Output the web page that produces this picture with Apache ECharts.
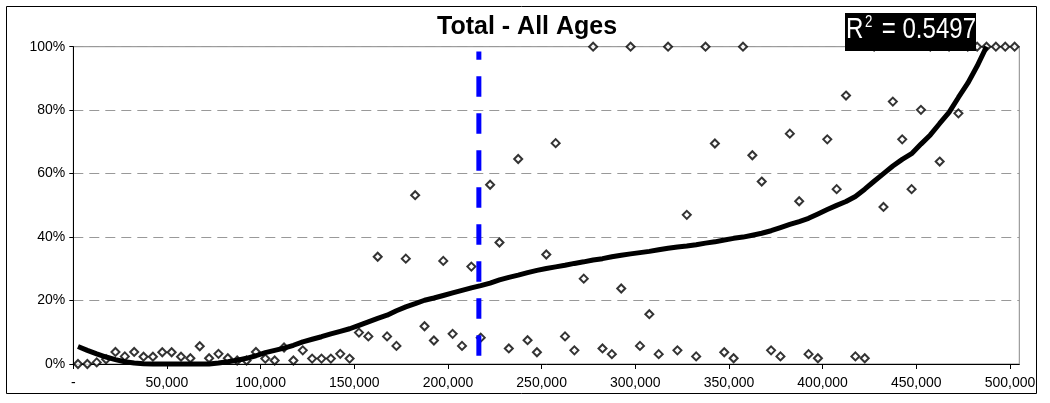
<!DOCTYPE html>
<html><head><meta charset="utf-8">
<script src="https://cdn.jsdelivr.net/npm/echarts@6/dist/echarts.min.js"></script>
<style>html,body{margin:0;padding:0;background:#fff}#c{width:1050px;height:403px}</style>
</head><body><div id="c"></div>
<script>
// Income bins (bin mid-points)
const incomeBins = [
  2500, 7500, 12500, 17500, 22500, 27500, 32500, 37500, 42500, 47500,
  52500, 57500, 62500, 67500, 72500, 77500, 82500, 87500, 92500, 97500,
  102500, 107500, 112500, 117500, 122500, 127500, 132500, 137500, 142500, 147500,
  152500, 157500, 162500, 167500, 172500, 177500, 182500, 187500, 192500, 197500,
  202500, 207500, 212500, 217500, 222500, 227500, 232500, 237500, 242500, 247500,
  252500, 257500, 262500, 267500, 272500, 277500, 282500, 287500, 292500, 297500,
  302500, 307500, 312500, 317500, 322500, 327500, 332500, 337500, 342500, 347500,
  352500, 357500, 362500, 367500, 372500, 377500, 382500, 387500, 392500, 397500,
  402500, 407500, 412500, 417500, 422500, 427500, 432500, 437500, 442500, 447500,
  452500, 457500, 462500, 467500, 472500, 477500, 482500, 487500, 492500, 497500,
  502500
];
// Observed share (%) per bin
const shareValues = [
  0, 0, 0.5, 1.5, 3.8, 2.4, 3.8, 2.3, 2.3, 3.7,
  3.7, 2.3, 1.8, 5.6, 1.8, 3.2, 1.8, 1.1, 1.1, 3.8,
  1.7, 1.1, 5.2, 1.1, 4.3, 1.7, 1.7, 1.7, 3.2, 1.7,
  9.9, 8.7, 33.8, 8.7, 5.7, 33.2, 53.2, 11.9, 7.4, 32.5,
  9.5, 5.7, 30.7, 8.3, 56.5, 38.3, 4.9, 64.6, 7.5, 3.7,
  34.5, 69.6, 8.7, 4.3, 26.9, 100, 4.9, 3.1, 23.8, 100,
  5.7, 15.7, 3.1, 100, 4.3, 47.0, 2.4, 100, 69.5, 3.7,
  1.8, 100, 65.8, 57.5, 4.3, 2.4, 72.6, 51.3, 3.1, 1.8,
  70.8, 55.1, 84.6, 2.4, 1.8, 100, 49.5, 82.7, 70.8, 55.1,
  80.1, 100, 63.8, 100, 79.0, 100, 100, 100, 100, 100,
  100
];
// Trend line (%) read at each bin until it reaches 100%
const trendValues = [
  5.5, 4.3, 3.2, 2.2, 1.4, 0.7, 0.3, 0.1, 0, 0,
  0, 0, 0, 0, 0, 0.3, 0.7, 1.2, 1.8, 2.6,
  3.6, 4.3, 5.0, 5.9, 7.0, 7.8, 8.6, 9.5, 10.3, 11.1,
  12.2, 13.3, 14.4, 15.4, 16.8, 18.0, 19.0, 20.1, 20.8, 21.6,
  22.4, 23.2, 24.0, 24.7, 25.5, 26.5, 27.3, 28.0, 28.8, 29.5,
  30.1, 30.6, 31.1, 31.7, 32.2, 32.8, 33.2, 33.8, 34.3, 34.7,
  35.1, 35.5, 36.0, 36.5, 36.9, 37.2, 37.6, 38.1, 38.5, 39.1,
  39.6, 40.0, 40.6, 41.2, 42.0, 43.0, 44.0, 44.9, 45.9, 47.3,
  48.7, 50.0, 51.2, 52.8, 55.1, 57.6, 60.0, 62.4, 64.5, 66.3,
  69.3, 72.2, 75.8, 79.3, 84.0, 88.5, 93.9, 100
];
// Vertical cutoff marker
const cutoffIncome = 216500;
const cutoffRange = [98.5, 0];
const titleText = 'Total - All Ages';
const rSquaredLabel = '0.5497';

const FONT = "'Liberation Sans', Arial, sans-serif";
const chart = echarts.init(document.getElementById('c'), null, {renderer: 'canvas'});

const scatterData = incomeBins.map((x, i) => [x, shareValues[i]]);
const trendData = trendValues.map((v, i) => [incomeBins[i], v]);
const cutoffData = cutoffRange.map(v => [cutoffIncome, v]);

chart.setOption({
  animation: false,
  backgroundColor: '#fff',
  title: {
    text: titleText, left: 437, top: 15, padding: 0,
    textStyle: {fontSize: 25, fontWeight: 'bold', color: '#000', fontFamily: FONT}
  },
  grid: {
    left: 73.3, right: 30.7, top: 46.7, bottom: 39,
    show: true, borderColor: '#888', borderWidth: 1, backgroundColor: 'transparent'
  },
  xAxis: {
    type: 'value', min: 0, max: 505000, interval: 50000,
    axisLine: {show: true, onZero: false, lineStyle: {color: '#000', width: 1}},
    axisTick: {show: true, length: 5, lineStyle: {color: '#000'}},
    axisLabel: {
      color: '#000', fontSize: 14, fontFamily: FONT, margin: 12,
      showMaxLabel: false,
      formatter: v => v === 0 ? '-' : (v % 50000 === 0 ? v.toLocaleString('en-US') : '')
    },
    splitLine: {show: false}
  },
  yAxis: {
    type: 'value', min: 0, max: 100, interval: 20,
    axisLine: {show: true, lineStyle: {color: '#000', width: 1}},
    axisTick: {show: true, length: 4, lineStyle: {color: '#000'}},
    axisLabel: {color: '#000', fontSize: 14, fontFamily: FONT, margin: 8, formatter: '{value}%'},
    splitLine: {show: true, lineStyle: {color: '#999', type: [10, 6], width: 1}}
  },
  series: [
    {
      type: 'scatter', data: scatterData, symbol: 'diamond', symbolSize: 8,
      itemStyle: {color: '#fff', borderColor: '#000', borderWidth: 2}, z: 2
    },
    {
      type: 'line', data: trendData, symbol: 'none', clip: false,
      lineStyle: {color: '#000', width: 5}, z: 3
    },
    {
      type: 'line', data: cutoffData, symbol: 'none', clip: false,
      lineStyle: {color: '#0000ff', width: 5, type: [20.5, 16.5], dashOffset: 12.2}, z: 4
    }
  ],
  graphic: [
    {type: 'rect', z: 100, silent: true, shape: {x: 845, y: 13, width: 131, height: 38}, style: {fill: '#000'}},
    {
      type: 'group', x: 846, y: 0, scaleX: 0.83, z: 101, silent: true,
      children: [
        {type: 'text', x: 0, y: 30, z: 101, style: {text: 'R', fontSize: 29, fontFamily: FONT, fill: '#fff', align: 'left', verticalAlign: 'middle'}},
        {type: 'text', x: 23, y: 22.5, z: 101, style: {text: '2', fontSize: 16, fontFamily: FONT, fill: '#fff', align: 'left', verticalAlign: 'middle'}},
        {type: 'text', x: 43, y: 30, z: 101, style: {text: '= ' + rSquaredLabel, fontSize: 29, fontFamily: FONT, fill: '#fff', align: 'left', verticalAlign: 'middle'}}
      ]
    },
    {type: 'rect', z: 102, silent: true, shape: {x: 6.5, y: 6.5, width: 1030, height: 387}, style: {fill: 'none', stroke: '#000', lineWidth: 1}}
  ]
});
</script></body></html>
